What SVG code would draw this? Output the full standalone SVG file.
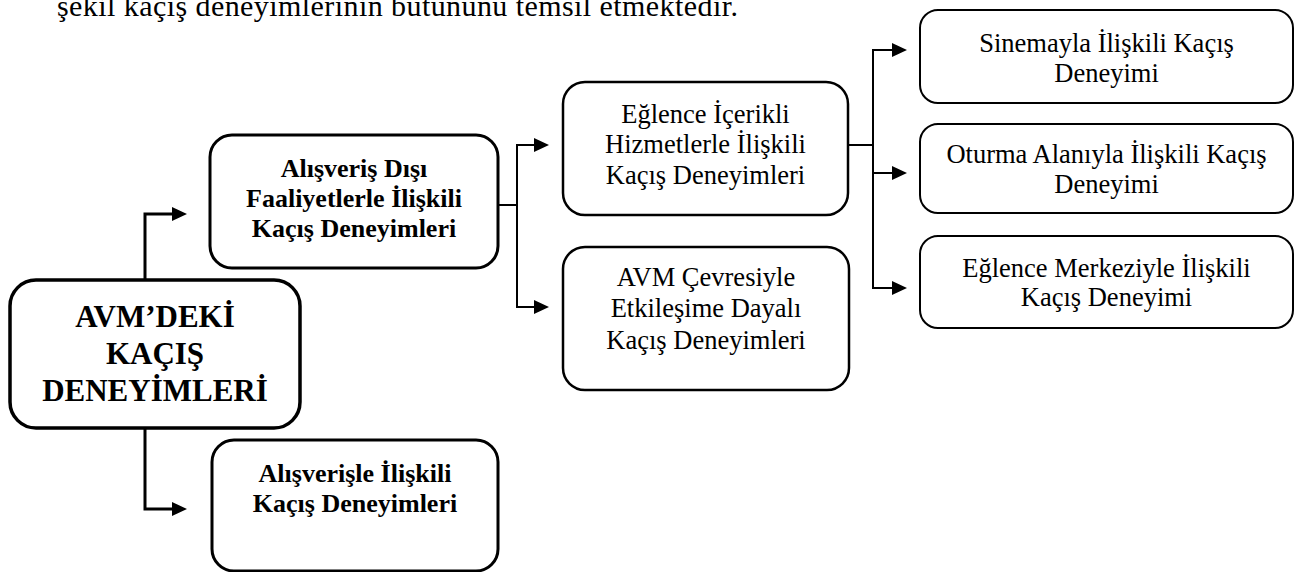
<svg xmlns="http://www.w3.org/2000/svg" width="1296" height="572" viewBox="0 0 1296 572">
<style>
  text { font-family: "Liberation Serif", "Times New Roman", serif; fill: #000; text-anchor: middle; }
  .b { font-weight: bold; font-size: 26px; }
  .r { font-size: 26.5px; }
  .root { font-weight: bold; font-size: 31px; }
  .box { fill: #fff; stroke: #000; }
  .thick { stroke-width: 3.5; }
  .med { stroke-width: 3; }
  .mid { stroke-width: 2.5; }
  .thin { stroke-width: 2; }
  .conn { fill: none; stroke: #000; }
  .head { fill: #000; stroke: none; }
</style>

<text x="57" y="16" font-size="30" style="text-anchor:start" textLength="681" lengthAdjust="spacing">şekil kaçış deneyimlerinin bütününü temsil etmektedir.</text>

<g id="connectors">
  <path class="conn" stroke-width="3" d="M145,281 V214 H175"/>
  <polygon class="head" points="172,207 187,214 172,221"/>
  <path class="conn" stroke-width="3" d="M145,427 V509 H175"/>
  <polygon class="head" points="172,502 187,509 172,516"/>

  <path class="conn" stroke-width="2" d="M498,205 H517 M517,145 V307 M516,145 H537 M516,307 H537"/>
  <polygon class="head" points="534,138 549,145 534,152"/>
  <polygon class="head" points="534,300 549,307 534,314"/>

  <path class="conn" stroke-width="2" d="M848,145 H873 M873,50 V288 M872,50 H895 M872,173 H895 M872,288 H895"/>
  <polygon class="head" points="892,43 907,50 892,57"/>
  <polygon class="head" points="892,166 907,173 892,180"/>
  <polygon class="head" points="892,281 907,288 892,295"/>
</g>

<g id="root">
  <rect class="box thick" x="10" y="280" width="290" height="148" rx="26"/>
  <text class="root" x="155" y="327">AVM’DEKİ</text>
  <text class="root" x="155" y="364">KAÇIŞ</text>
  <text class="root" x="155" y="401">DENEYİMLERİ</text>
</g>

<g id="alisveris-disi">
  <rect class="box med" x="210" y="135" width="288" height="133" rx="22"/>
  <text class="b" x="354" y="177">Alışveriş Dışı</text>
  <text class="b" x="354" y="207">Faaliyetlerle İlişkili</text>
  <text class="b" x="354" y="237">Kaçış Deneyimleri</text>
</g>

<g id="alisverisle">
  <rect class="box med" x="212" y="440" width="286" height="131" rx="22"/>
  <text class="b" x="355" y="482">Alışverişle İlişkili</text>
  <text class="b" x="355" y="512">Kaçış Deneyimleri</text>
</g>

<g id="eglence-icerikli">
  <rect class="box mid" x="563" y="82" width="285" height="133" rx="22"/>
  <text class="r" x="705.5" y="123">Eğlence İçerikli</text>
  <text class="r" x="705.5" y="153">Hizmetlerle İlişkili</text>
  <text class="r" x="705.5" y="184">Kaçış Deneyimleri</text>
</g>

<g id="avm-cevresi">
  <rect class="box mid" x="563" y="247" width="286" height="143" rx="22"/>
  <text class="r" x="706" y="286">AVM Çevresiyle</text>
  <text class="r" x="706" y="317">Etkileşime Dayalı</text>
  <text class="r" x="706" y="349">Kaçış Deneyimleri</text>
</g>

<g id="sinema">
  <rect class="box thin" x="920" y="10" width="373" height="93" rx="18"/>
  <text class="r" x="1106.5" y="52">Sinemayla İlişkili Kaçış</text>
  <text class="r" x="1106.5" y="82">Deneyimi</text>
</g>

<g id="oturma">
  <rect class="box thin" x="920" y="124" width="373" height="89" rx="18"/>
  <text class="r" x="1106.5" y="163">Oturma Alanıyla İlişkili Kaçış</text>
  <text class="r" x="1106.5" y="193">Deneyimi</text>
</g>

<g id="eglence-merkezi">
  <rect class="box thin" x="920" y="236" width="373" height="92" rx="18"/>
  <text class="r" x="1106.5" y="277">Eğlence Merkeziyle İlişkili</text>
  <text class="r" x="1106.5" y="306">Kaçış Deneyimi</text>
</g>
</svg>
